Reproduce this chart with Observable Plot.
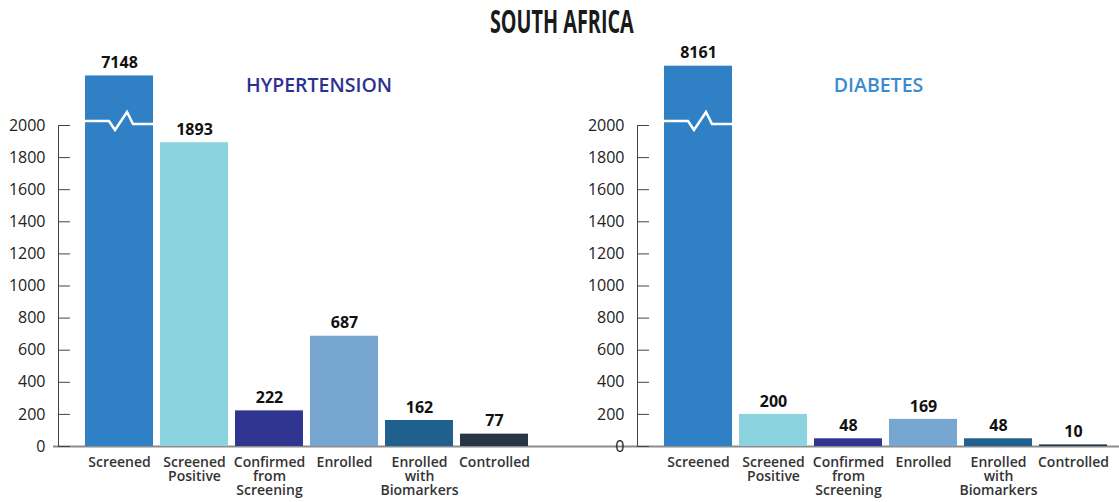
<!DOCTYPE html>
<html><head><meta charset="utf-8">
<script src="https://cdn.jsdelivr.net/npm/d3@7"></script>
<script src="https://cdn.jsdelivr.net/npm/@observablehq/plot@0.6"></script>
<style>
body{margin:0;background:#fff;font-family:"Open Sans",sans-serif;}
#title{height:40px;width:1119px;text-align:center;}
#title span{display:inline-block;font-family:"Open Sans",sans-serif;font-weight:700;font-size:33px;line-height:42px;color:#1a1a1a;transform:scaleX(0.6);transform-origin:center;margin-left:4px;}
#row{display:flex;width:1119px;}
#row svg{overflow:visible;}
</style></head><body>
<div id="title"><span>SOUTH AFRICA</span></div>
<div id="row"></div>
<script>
const categories = ["Screened","Screened Positive","Confirmed from Screening","Enrolled","Enrolled with Biomarkers","Controlled"];
const categoryLabels = ["Screened","Screened\nPositive","Confirmed\nfrom\nScreening","Enrolled","Enrolled\nwith\nBiomarkers","Controlled"];
const hypertension = [7148, 1893, 222, 687, 162, 77];
const diabetes = [8161, 200, 48, 169, 48, 10];
const yTicks = [0,200,400,600,800,1000,1200,1400,1600,1800,2000];
const barColors = ["#3080c6","#8bd3df","#2f3591","#77a7d1","#20608f","#263645"];
const axisMax = 2000;
const breakCompression = 0.06;

const labelOf = new Map(categories.map((c,i)=>[c, categoryLabels[i]]));
const compress = v => v <= axisMax ? v : axisMax + (v - axisMax) * breakCompression;
// zigzag break shape: [fraction of bar width, pixel offset from the 2000 line]
const breakShape = [[0,-4],[0.353,-4],[0.441,5],[0.618,-13],[0.706,-1],[1,-1]];

function breakMark(rows) {
  return (index, scales) => {
    const g = d3.create("svg:g");
    const x = scales.x, y = scales.y;
    const bw = typeof x.bandwidth === "function" ? x.bandwidth() : scales.scales.x.bandwidth;
    rows.filter(d => d.value > axisMax).forEach(d => {
      const x0 = x(d.cat), y0 = y(axisMax);
      const pts = breakShape.map(([fx, dy]) => [x0 + fx * bw, y0 + dy]);
      g.append("path").attr("d", d3.line()(pts)).attr("fill","none")
        .attr("stroke","#fff").attr("stroke-width",2.5).attr("stroke-linejoin","miter");
    });
    return g.node();
  };
}

function panel(title, titleColor, values, width, baselineInset) {
  const rows = categories.map((c,i)=>({cat:c, value:values[i], disp:compress(values[i])}));
  return Plot.plot({
    width, height: 462,
    marginLeft: 58, marginRight: 0, marginTop: 85, marginBottom: 56,
    style: {fontFamily: "'Open Sans', sans-serif", background: "transparent"},
    x: {domain: categories, range: [83, 528.5], paddingInner: 0.1, paddingOuter: 0},
    y: {domain: [0, axisMax]},
    color: {domain: categories, range: barColors},
    marks: [
      Plot.ruleY([0], {stroke: "#8c8c8c", strokeWidth: 2, insetLeft: baselineInset}),
      Plot.barY(rows, {x: "cat", y: "disp", fill: "cat"}),
      breakMark(rows),
      Plot.text(rows, {x: "cat", y: "disp", text: d => String(d.value), dy: -13, fontSize: 16, fontWeight: "bold", fill: "#111"}),
      Plot.axisY({ticks: yTicks, tickSize: 0, tickPadding: 13, tickFormat: d => String(d), fontSize: 16, color: "#222", label: null}),
      Plot.axisY({ticks: yTicks, tickSize: 12, dx: 12, tickFormat: () => "", color: "#444", label: null}),
      Plot.frame({anchor: "left", stroke: "#444"}),
      Plot.axisX({tickSize: 0, tickPadding: 11, tickFormat: d => labelOf.get(d), fontSize: 14, fontWeight: 600, lineHeight: 1.0, color: "#333", label: null}),
      Plot.text([title], {frameAnchor: "top", dy: -47, fill: titleColor, fontSize: 19.5, fontWeight: 600})
    ]
  });
}

const row = document.getElementById("row");
row.append(panel("HYPERTENSION", "#2e3192", hypertension, 579, -5));
row.append(panel("DIABETES", "#3a8ccd", diabetes, 540, -58));
</script>
</body></html>
